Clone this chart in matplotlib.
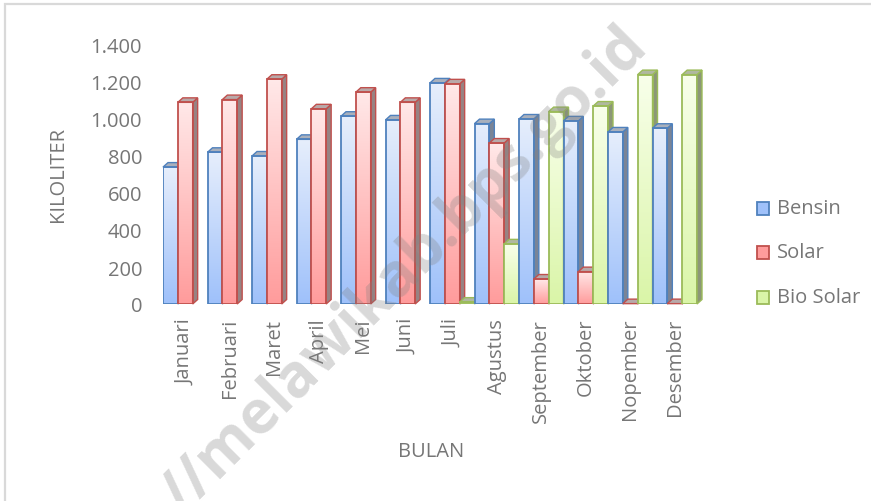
import numpy as np
import matplotlib.pyplot as plt
from matplotlib.patches import Polygon, Rectangle
from matplotlib.colors import LinearSegmentedColormap
from matplotlib.ticker import FuncFormatter

# data (kiloliter per bulan)
bulan = ['Januari', 'Februari', 'Maret', 'April', 'Mei', 'Juni', 'Juli',
         'Agustus', 'September', 'Oktober', 'Nopember', 'Desember']
bensin = [740, 820, 800, 890, 1015, 995, 1195, 975, 1000, 990, 930, 950]
solar = [1090, 1105, 1215, 1055, 1145, 1090, 1190, 870, 135, 175, 2, 2]
bio_solar = [np.nan, np.nan, np.nan, np.nan, np.nan, np.nan, 10, 325, 1040, 1070, 1240, 1240]
series_names = ['Bensin', 'Solar', 'Bio Solar']

# style per series: edge, gradient top, gradient bottom, side, top face
styles = {
    'Bensin': dict(edge='#4f81bd', c_top='#e6eefc', c_bot='#9fc1fa', side='#7a8496', cap='#a9b0bc'),
    'Solar': dict(edge='#c0504d', c_top='#ffe8e8', c_bot='#ff9c9c', side='#978383', cap='#b8a9a9'),
    'Bio Solar': dict(edge='#9bbb59', c_top='#f8ffea', c_bot='#daf5a8', side='#8c9778', cap='#b0b8a0'),
}

text_col = '#767676'
font = 'Open Sans'

fig = plt.figure(figsize=(8.71, 5.02), dpi=100)
ax = fig.add_axes([163 / 871, 1 - 305 / 502, 534 / 871, 259 / 502])
ax.set_xlim(-0.5, 11.5)
ax.set_ylim(0, 1400)

# depth of the 3d look, from pixels to data units
px_x = 12 / 534
px_y = 1400 / 259
dx = 5 * px_x
dy = 4.5 * px_y
w = 1 / 3

x = np.arange(len(bulan))
all_vals = [bensin, solar, bio_solar]

for i in range(len(bulan)):
    for k, name in enumerate(series_names):
        v = all_vals[k][i]
        if np.isnan(v):
            continue
        st = styles[name]
        x0 = x[i] + (k - 1) * w - w / 2
        x1 = x0 + w
        z = 2 + i * 3 + k
        bar = ax.bar(x0, v, width=w, align='edge', facecolor='none',
                     edgecolor=st['edge'], linewidth=1.3, zorder=z + 0.5)[0]
        cmap = LinearSegmentedColormap.from_list(name, [st['c_bot'], st['c_top']])
        grad = np.linspace(0, 1, 64).reshape(-1, 1)
        im = ax.imshow(grad, cmap=cmap, extent=[x0, x1, 0, v], origin='lower',
                       aspect='auto', zorder=z, interpolation='bilinear')
        im.set_clip_path(bar)
        side = Polygon([(x1, 0), (x1 + dx, dy), (x1 + dx, v + dy), (x1, v)],
                       closed=True, facecolor=st['side'], edgecolor=st['edge'],
                       linewidth=1.0, zorder=z, clip_on=False)
        top = Polygon([(x0, v), (x0 + dx, v + dy), (x1 + dx, v + dy), (x1, v)],
                      closed=True, facecolor=st['cap'], edgecolor=st['edge'],
                      linewidth=1.0, zorder=z, clip_on=False)
        ax.add_patch(side)
        ax.add_patch(top)

ax.set_xlim(-0.5, 11.5)
ax.set_ylim(0, 1400)
ax.set_yticks(np.arange(0, 1401, 200))
ax.yaxis.set_major_formatter(FuncFormatter(lambda v, p: f'{int(v):,}'.replace(',', '.')))
ax.set_xticks(x)
ax.set_xticklabels(bulan, rotation=90, va='top', ha='center')
ax.tick_params(axis='y', length=0, pad=15, labelsize=14.5, labelcolor=text_col)
ax.tick_params(axis='x', length=0, pad=10, labelsize=14.5, labelcolor=text_col)
for lab in ax.get_xticklabels() + ax.get_yticklabels():
    lab.set_fontfamily(font)
for s in ax.spines.values():
    s.set_visible(False)
ax.patch.set_alpha(0)

fig.text(58 / 871, 1 - 175 / 502, 'KILOLITER', rotation=90, ha='center', va='center',
         fontsize=14.5, color=text_col, family=font)
fig.text(431 / 871, 1 - 452 / 502, 'BULAN', ha='center', va='center',
         fontsize=14.5, color=text_col, family=font)

# legend
leg_y = [209, 253, 298]
for name, yy in zip(series_names, leg_y):
    st = styles[name]
    fig.patches.append(Rectangle((757 / 871, 1 - (yy + 6.5) / 502), 12 / 871, 13 / 502,
                                 transform=fig.transFigure, facecolor=st['c_bot'],
                                 edgecolor=st['edge'], linewidth=1.3))
    fig.text(777 / 871, 1 - yy / 502, name, ha='left', va='center',
             fontsize=14.5, color=text_col, family=font)

# outer frame
fig.patches.append(Rectangle((4.5 / 871, -0.1), 1.2, 1 - 4.5 / 502 + 0.1,
                             transform=fig.transFigure, fill=False,
                             edgecolor='#d9d9d9', linewidth=1.6))

# watermark
fig.text(405 / 871, 1 - 272 / 502, '//melawikab.bps.go.id', rotation=45,
         ha='center', va='center', fontsize=43, fontweight='bold',
         color='#808080', alpha=0.3, family=font, zorder=100)

fig.savefig('out.png', dpi=100)
